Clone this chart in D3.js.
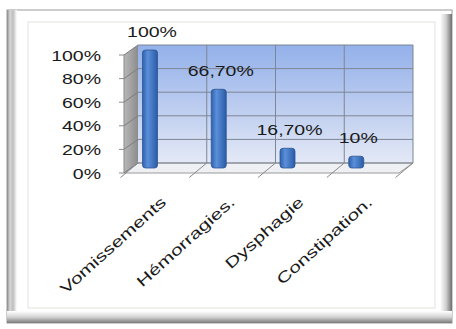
<!DOCTYPE html>
<html>
<head>
<meta charset="utf-8">
<title>Symptômes</title>
<script src="https://cdn.jsdelivr.net/npm/d3@7"></script>
<style>
    body { margin: 0; background: #fff; }
    text { font-family: "Liberation Sans", Arial, sans-serif; fill: #1a1a1a; }
</style>
</head>
<body>
<script>
    var categories = ["Vomissements", "Hémorragies.", "Dysphagie", "Constipation."];
    var values = [1.00, 0.667, 0.167, 0.10];
    var valueLabels = ["100%", "66,70%", "16,70%", "10%"];
    var tickValues = [0, 0.2, 0.4, 0.6, 0.8, 1.0];
    var tickLabels = ["0%", "20%", "40%", "60%", "80%", "100%"];

    var width = 456, height = 329;
    var svg = d3.select("body").append("svg")
        .attr("width", width)
        .attr("height", height);

    var defs = svg.append("defs");
    function grad(id, x2, y2, stops) {
        var g = defs.append("linearGradient").attr("id", id)
            .attr("x1", 0).attr("y1", 0).attr("x2", x2).attr("y2", y2);
        stops.forEach(function (s) {
            g.append("stop").attr("offset", s[0]).attr("stop-color", s[1]);
        });
    }
    grad("wall", 0, 1, [[0, "#94b1ea"], [0.5, "#bacbef"], [1, "#e4e9f6"]]);
    grad("side", 1, 0, [[0, "#b8b8b8"], [1, "#8c8c8c"]]);
    grad("bar", 1, 0, [[0, "#2f62ad"], [0.35, "#5b8fda"], [1, "#2a5ba6"]]);
    grad("bevL", 1, 0, [[0, "#8a8a8a"], [0.3, "#d8d8d8"], [0.6, "#bdbdbd"], [1, "#ffffff"]]);
    grad("bevR", 1, 0, [[0, "#ffffff"], [0.5, "#d0d0d0"], [1, "#6f6f6f"]]);
    grad("bevB", 0, 1, [[0, "#ffffff"], [0.5, "#d4d4d4"], [1, "#7a7a7a"]]);

    // frame
    svg.append("rect").attr("x", 7).attr("y", 10).attr("width", 445).attr("height", 313)
        .attr("fill", "#fff").attr("stroke", "#9a9a9a");
    svg.append("rect").attr("x", 7).attr("y", 10).attr("width", 10).attr("height", 313).attr("fill", "url(#bevL)");
    svg.append("rect").attr("x", 440).attr("y", 14).attr("width", 12).attr("height", 309).attr("fill", "url(#bevR)");
    svg.append("rect").attr("x", 7).attr("y", 311).attr("width", 445).attr("height", 12).attr("fill", "url(#bevB)");
    svg.append("rect").attr("x", 28).attr("y", 22).attr("width", 407).attr("height", 286)
        .attr("fill", "#fff").attr("stroke", "#e6e2da");

    // 3D geometry
    var back = { x: 138, y: 45 }, depth = { dx: -14, dy: 10 };
    var plotW = 275, plotH = 118;
    var x = d3.scaleBand().domain(categories).range([0, plotW]);
    var y = d3.scaleLinear().domain([0, 1]).range([plotH, 0]);

    var g = svg.append("g");
    // back wall
    g.append("rect").attr("x", back.x).attr("y", back.y + y(1))
        .attr("width", plotW).attr("height", y(0) - y(1)).attr("fill", "url(#wall)");
    // side wall
    g.append("path").attr("fill", "url(#side)")
        .attr("d", "M" + back.x + "," + (back.y + y(1)) + "L" + (back.x + depth.dx) + "," + (back.y + y(1) + depth.dy) +
            "L" + (back.x + depth.dx) + "," + (back.y + y(0) + depth.dy) + "L" + back.x + "," + (back.y + y(0)) + "Z");
    // floor
    g.append("path").attr("fill", "#eef0f4").attr("stroke", "#9a9a9a")
        .attr("d", "M" + back.x + "," + (back.y + y(0)) + "L" + (back.x + plotW) + "," + (back.y + y(0)) +
            "L" + (back.x + plotW + depth.dx) + "," + (back.y + y(0) + depth.dy) +
            "L" + (back.x + depth.dx) + "," + (back.y + y(0) + depth.dy) + "Z");

    // horizontal gridlines on back and side walls
    tickValues.forEach(function (t) {
        var yy = back.y + y(t);
        g.append("line").attr("x1", back.x).attr("x2", back.x + plotW).attr("y1", yy).attr("y2", yy)
            .attr("stroke", "#7d8694").attr("stroke-width", 1);
        g.append("line").attr("x1", back.x).attr("x2", back.x + depth.dx).attr("y1", yy).attr("y2", yy + depth.dy)
            .attr("stroke", "#7d7d7d");
        g.append("line").attr("x1", back.x + depth.dx - 5).attr("x2", back.x + depth.dx)
            .attr("y1", yy + depth.dy).attr("y2", yy + depth.dy).attr("stroke", "#8a8a8a");
    });
    // vertical gridlines and floor dividers
    var bounds = categories.map(function (c) { return x(c); }).concat([plotW]);
    bounds.forEach(function (b, i) {
        var xx = back.x + b;
        if (i > 0) {
            g.append("line").attr("x1", xx).attr("x2", xx).attr("y1", back.y + y(1)).attr("y2", back.y + y(0))
                .attr("stroke", "#7d8694");
        }
        g.append("line").attr("x1", xx).attr("y1", back.y + y(0))
            .attr("x2", xx + depth.dx * 1.25).attr("y2", back.y + y(0) + depth.dy * 1.25 + 2)
            .attr("stroke", "#8a8a8a");
    });
    // left axis edge
    g.append("line").attr("x1", back.x + depth.dx).attr("x2", back.x + depth.dx)
        .attr("y1", back.y + y(1) + depth.dy).attr("y2", back.y + y(0) + depth.dy).attr("stroke", "#8a8a8a");

    // bars at mid depth
    var mid = { x: back.x + depth.dx / 2, y: back.y + depth.dy / 2 };
    var barW = 15, barOff = 19;
    g.selectAll(".bar").data(values).enter().append("rect")
        .attr("class", "bar")
        .attr("x", function (d, i) { return mid.x + x(categories[i]) + barOff - barW / 2; })
        .attr("y", function (d) { return mid.y + y(d); })
        .attr("width", barW)
        .attr("height", function (d) { return y(0) - y(d); })
        .attr("rx", 3).attr("ry", 3)
        .attr("fill", "url(#bar)").attr("stroke", "#2b5597").attr("stroke-width", 0.8);

    // value labels
    g.selectAll(".vlab").data(values).enter().append("text")
        .attr("class", "vlab")
        .attr("text-anchor", "middle")
        .attr("font-size", 15)
        .attr("transform", function (d, i) {
            return "translate(" + (mid.x + x(categories[i]) + barOff + 2) + "," + (mid.y + y(d) - 13) + ") scale(1.3,1)";
        })
        .text(function (d, i) { return valueLabels[i]; });

    // y tick labels
    g.selectAll(".ylab").data(tickValues).enter().append("text")
        .attr("class", "ylab")
        .attr("text-anchor", "end")
        .attr("font-size", 15)
        .attr("transform", function (d) {
            return "translate(101," + (back.y + y(d) + depth.dy + 5.5) + ") scale(1.3,1)";
        })
        .text(function (d, i) { return tickLabels[i]; });

    // category labels
    g.selectAll(".xlab").data(categories).enter().append("text")
        .attr("class", "xlab")
        .attr("text-anchor", "end")
        .attr("font-size", 15)
        .attr("transform", function (d) {
            var cx = back.x + depth.dx + x(d) + x.bandwidth() / 2 + 2;
            return "translate(" + cx + ",196) rotate(-42) scale(1.4,1) translate(0,10)";
        })
        .text(function (d) { return d; });
</script>
</body>
</html>
